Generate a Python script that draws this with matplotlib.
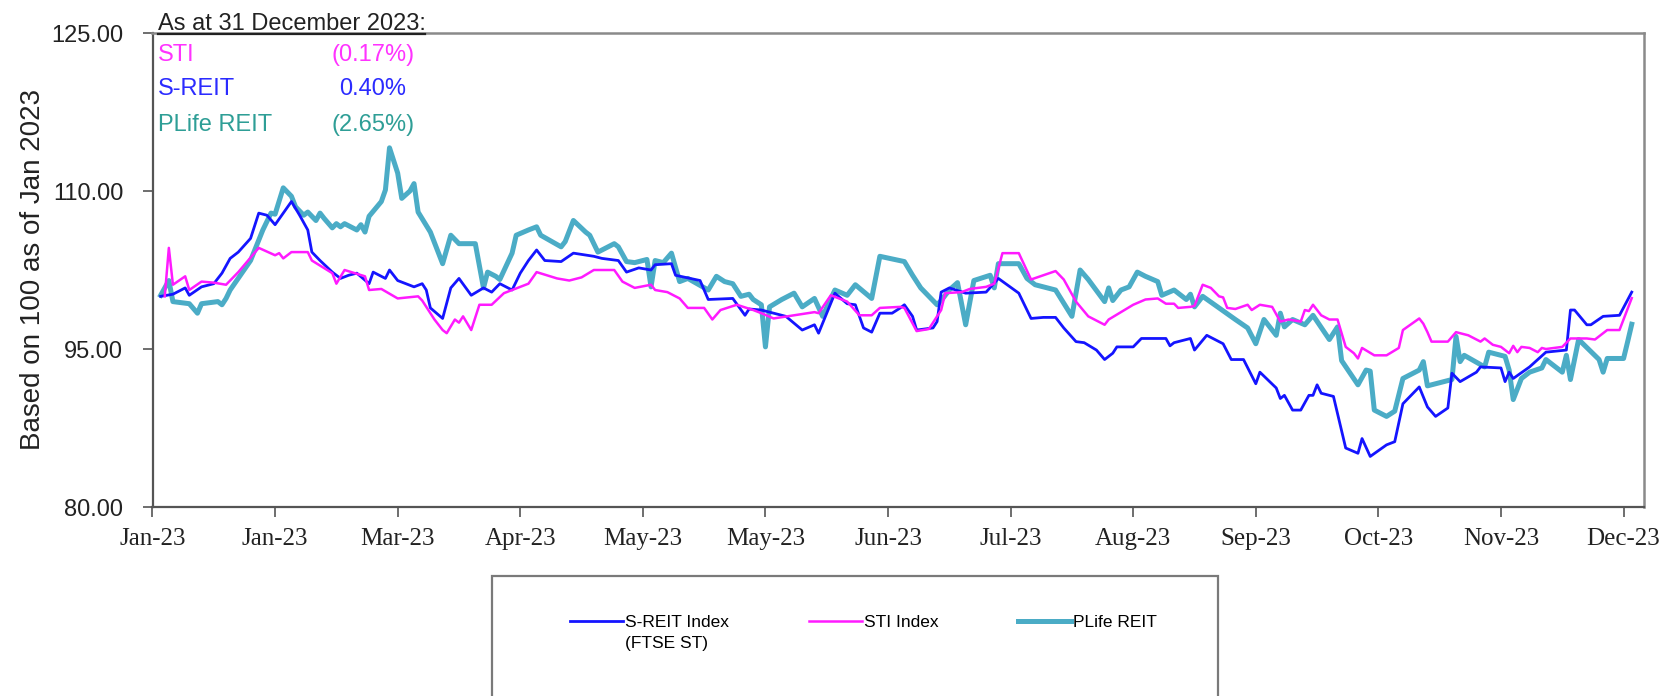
import numpy as np
import matplotlib
matplotlib.use("Agg")
import matplotlib.pyplot as plt
import matplotlib.dates as mdates
from matplotlib.patches import Rectangle

# ---------------- data (day offset from 1 Jan 2023, index value) ----------------
sreit_day = [2, 5, 8, 9, 12, 15, 17, 19, 21, 24, 26, 28, 30, 34, 36, 38, 39, 41, 44, 46, 48, 50,
             53, 54, 57, 58, 60, 64, 66, 67, 68, 71, 73, 75, 78, 81, 83, 85, 88, 90, 92, 94, 96,
             100, 103, 108, 110, 114, 116, 119, 122, 123, 127, 128, 134, 136, 142, 145, 146, 149,
             155, 159, 162, 163, 167, 170, 172, 174, 176, 178, 181, 183, 184, 186, 187, 191, 192,
             193, 195, 199, 204, 207, 212, 213, 215, 218, 221, 223, 226, 228, 231, 233, 235, 236,
             240, 242, 248, 249, 250, 254, 255, 258, 262, 264, 267, 270, 271, 275, 276, 277, 279,
             281, 283, 284, 285, 286, 289, 292, 295, 296, 298, 302, 304, 306, 310, 312, 314, 317,
             318, 320, 324, 325, 330, 331, 332, 333, 337, 339, 341, 346, 347, 348, 351, 352, 355,
             359, 362]
sreit_val = [100.0, 100.2, 100.8, 100.1, 100.9, 101.2, 102.2, 103.6, 104.2, 105.5, 107.9, 107.7,
             106.8, 109.0, 107.7, 106.3, 104.2, 103.4, 102.3, 101.7, 102.0, 102.2, 101.2, 102.3,
             101.7, 102.5, 101.5, 100.9, 101.2, 100.6, 98.9, 97.9, 100.8, 101.7, 100.1, 100.8,
             100.4, 101.2, 100.6, 102.2, 103.4, 104.4, 103.4, 103.3, 104.1, 103.8, 103.6, 103.4,
             102.3, 102.7, 102.5, 103.0, 103.1, 102.0, 101.5, 99.7, 99.8, 98.2, 98.8, 98.7, 98.1,
             96.8, 97.3, 96.5, 100.3, 99.3, 99.2, 97.0, 96.6, 98.4, 98.4, 98.9, 99.2, 98.1, 96.8,
             97.0, 97.6, 100.4, 100.8, 100.3, 100.4, 101.7, 100.3, 99.5, 97.9, 98.0, 98.0, 97.0,
             95.7, 95.6, 94.9, 94.0, 94.6, 95.2, 95.2, 96.0, 96.0, 95.3, 95.6, 96.0, 94.9, 96.3,
             95.5, 94.0, 94.0, 91.7, 92.8, 91.3, 90.3, 90.6, 89.2, 89.2, 90.6, 90.6, 91.6, 90.8,
             90.5, 85.6, 85.1, 86.5, 84.8, 85.9, 86.2, 89.8, 91.4, 89.5, 88.6, 89.4, 92.7, 91.9,
             92.8, 93.3, 93.2, 91.9, 92.8, 92.2, 93.3, 94.0, 94.7, 94.9, 98.7, 98.7, 97.3, 97.3,
             98.1, 98.2, 100.4]

sti_day = [3, 4, 5, 8, 9, 12, 15, 18, 21, 26, 30, 31, 32, 34, 38, 39, 44, 45, 47, 52, 53, 56, 60,
           65, 66, 69, 71, 72, 74, 75, 76, 78, 80, 83, 86, 88, 92, 94, 99, 102, 105, 108, 113, 115,
           118, 122, 123, 126, 129, 131, 135, 137, 139, 143, 147, 149, 152, 157, 162, 163, 166, 170,
           173, 176, 178, 183, 184, 187, 190, 193, 194, 198, 200, 204, 206, 208, 212, 215, 218, 221,
           223, 226, 229, 233, 234, 240, 243, 246, 248, 250, 251, 254, 255, 257, 259, 261, 262, 263,
           265, 268, 269, 271, 274, 276, 278, 281, 282, 283, 284, 286, 288, 290, 292, 294, 295, 296,
           299, 302, 305, 306, 310, 311, 312, 313, 317, 319, 322, 325, 326, 328, 330, 332, 333, 334,
           335, 337, 339, 340, 341, 345, 347, 351, 353, 356, 359, 362]
sti_val = [100.0, 104.6, 101.1, 101.9, 100.6, 101.4, 101.3, 101.1, 102.3, 104.6, 103.9, 104.1,
           103.6, 104.2, 104.2, 103.4, 102.2, 101.2, 102.5, 101.9, 100.6, 100.7, 99.8, 100.0, 99.6,
           97.8, 96.8, 96.5, 97.8, 97.5, 98.1, 96.8, 99.2, 99.2, 100.3, 100.6, 101.2, 102.3, 101.7,
           101.5, 101.8, 102.5, 102.5, 101.4, 100.8, 101.1, 100.6, 100.4, 99.8, 98.9, 98.9, 97.8,
           98.7, 99.2, 98.7, 98.4, 97.9, 98.2, 98.5, 98.4, 100.1, 99.5, 98.2, 98.2, 98.9, 99.0,
           98.9, 96.7, 96.9, 98.7, 100.3, 100.4, 100.7, 100.9, 101.2, 104.1, 104.1, 101.6, 102.0,
           102.4, 101.6, 99.5, 98.1, 97.3, 97.8, 99.2, 99.7, 99.8, 99.3, 99.3, 98.9, 99.0, 99.1,
           101.1, 100.8, 100.0, 99.9, 98.9, 98.8, 99.2, 98.7, 99.2, 99.0, 97.6, 97.8, 97.6, 98.7,
           98.6, 99.2, 98.2, 97.8, 97.8, 95.2, 94.6, 94.1, 95.1, 94.4, 94.4, 95.1, 96.8, 97.9, 97.4,
           96.6, 95.7, 95.7, 96.6, 96.3, 95.7, 96.0, 95.4, 95.2, 94.6, 95.3, 94.7, 95.2, 95.1, 94.7,
           95.1, 95.0, 95.2, 96.0, 96.0, 95.9, 96.8, 96.8, 99.83]

plife_day = [2, 4, 5, 9, 11, 12, 16, 17, 18, 19, 24, 27, 29, 30, 32, 34, 35, 37, 38, 40, 41, 42,
             44, 45, 46, 47, 50, 51, 52, 53, 56, 57, 58, 60, 61, 63, 64, 65, 68, 71, 73, 75, 79, 81,
             82, 84, 85, 88, 89, 92, 94, 95, 100, 101, 103, 106, 107, 109, 113, 114, 116, 118, 121,
             122, 123, 125, 127, 129, 131, 136, 138, 140, 142, 144, 146, 147, 149, 150, 151, 154,
             157, 159, 162, 164, 167, 170, 172, 176, 178, 184, 186, 188, 192, 193, 195, 197, 199,
             201, 205, 206, 207, 212, 214, 216, 221, 225, 227, 229, 233, 234, 235, 237, 239, 241,
             243, 246, 247, 250, 253, 254, 255, 257, 261, 265, 268, 270, 272, 275, 276, 277, 279,
             282, 284, 288, 290, 291, 295, 297, 298, 299, 302, 304, 306, 310, 311, 312, 318, 319,
             320, 321, 326, 327, 331, 332, 333, 335, 337, 340, 341, 345, 346, 347, 349, 354, 355,
             356, 360, 361, 362]
plife_val = [100.1, 101.5, 99.5, 99.3, 98.4, 99.3, 99.5, 99.2, 99.8, 100.6, 103.4, 106.3, 107.9,
             107.8, 110.3, 109.5, 108.5, 107.7, 108.0, 107.2, 107.9, 107.4, 106.5, 106.9, 106.6,
             106.9, 106.3, 106.8, 106.1, 107.6, 109.0, 110.1, 114.1, 111.7, 109.3, 110.0, 110.7,
             108.0, 106.1, 103.1, 105.8, 105.0, 105.0, 100.8, 102.3, 101.9, 101.6, 104.1, 105.8,
             106.3, 106.6, 105.8, 104.7, 105.2, 107.2, 106.1, 105.8, 104.2, 105.0, 104.7, 103.3,
             103.2, 103.5, 100.9, 103.4, 103.2, 104.1, 101.4, 101.7, 100.6, 101.9, 101.4, 101.2,
             100.0, 100.2, 99.7, 99.2, 95.2, 99.0, 99.7, 100.3, 99.0, 99.8, 98.1, 100.6, 100.1,
             101.1, 99.8, 103.8, 103.3, 102.0, 100.8, 99.2, 99.6, 100.6, 101.3, 97.3, 101.5, 102.0,
             100.8, 103.1, 103.1, 101.7, 101.1, 100.6, 98.1, 102.5, 101.6, 99.5, 100.8, 99.6, 100.6,
             100.9, 102.3, 101.9, 101.4, 100.1, 100.6, 99.7, 100.2, 99.0, 100.0, 98.9, 97.8, 97.0,
             95.5, 97.8, 96.3, 98.4, 97.1, 97.8, 97.3, 98.2, 95.9, 97.1, 93.9, 91.6, 93.0, 92.9,
             89.2, 88.6, 89.1, 92.2, 93.0, 93.8, 91.5, 92.1, 96.2, 93.8, 94.4, 93.3, 94.7, 94.3,
             93.0, 90.2, 92.2, 92.8, 93.2, 94.0, 92.8, 94.4, 92.1, 95.9, 94.0, 92.8, 94.1, 94.1,
             95.7, 97.35]

series_labels = ["S-REIT Index", "STI Index", "PLife REIT"]
label_second_line = "(FTSE ST)"
summary_names = ["STI", "S-REIT", "PLife REIT"]
summary_values = ["(0.17%)", "0.40%", "(2.65%)"]
y_ticks = [80.0, 95.0, 110.0, 125.0]
tick_step_days = 30

# ---------------- styling ----------------
C_SREIT = "#1414FF"
C_STI = "#FF1AFF"
C_PLIFE = "#4BACC6"
summary_colors = ["#FF33FF", "#2B2BFF", "#2E9E96"]
SANS = "Liberation Sans"

W, H = 1671, 696
fig = plt.figure(figsize=(W / 100, H / 100), dpi=100)
ax = fig.add_axes([152.5 / W, 1 - 507 / H, (1644 - 152.5) / W, (507 - 33) / H])

base = np.datetime64("2023-01-01")
to_dates = lambda d: base + np.array(d, dtype="timedelta64[D]")

ax.plot(to_dates(sreit_day), sreit_val, color=C_SREIT, lw=2.0, label=series_labels[0], zorder=3)
ax.plot(to_dates(sti_day), sti_val, color=C_STI, lw=1.8, label=series_labels[1], zorder=3)
ax.plot(to_dates(plife_day), plife_val, color=C_PLIFE, lw=3.6, label=series_labels[2], zorder=2)

ax.set_xlim(base, base + np.timedelta64(365, "D"))
ax.set_ylim(80, 125)
ax.set_yticks(y_ticks)
ax.set_yticklabels([f"{v:.2f}" for v in y_ticks], fontfamily=SANS, fontsize=17,
                   color="#222222")
xt = [base + np.timedelta64(tick_step_days * k, "D") for k in range(13)]
ax.set_xticks(xt)
ax.xaxis.set_major_formatter(mdates.DateFormatter("%b-%y"))
for lab in ax.get_xticklabels():
    lab.set_fontfamily("Liberation Serif")
    lab.set_fontsize(18)
    lab.set_color("#222222")
ax.tick_params(axis="y", direction="out", length=7, width=1.2, color="#555555", pad=14)
ax.tick_params(axis="x", direction="out", length=7, width=1.2, color="#555555", pad=8)
for s in ["left", "bottom"]:
    ax.spines[s].set_color("#555555")
    ax.spines[s].set_linewidth(1.6)
for s in ["top", "right"]:
    ax.spines[s].set_color("#8a8a8a")
    ax.spines[s].set_linewidth(1.8)

ax.set_ylabel("Based on 100 as of Jan 2023", fontfamily=SANS, fontsize=20, color="#222222")
ax.yaxis.set_label_coords((46 - 152.5) / (1644 - 152.5), 0.5)

# annotation block
fig.text(158 / W, 1 - 30 / H, "As at 31 December 2023:", fontfamily=SANS,
         fontsize=17, color="#222222", va="baseline", ha="left")
ax.plot([158 / W, 425 / W], [1 - 34 / H, 1 - 34 / H], transform=fig.transFigure,
        color="#222222", lw=1.6, clip_on=False, zorder=5)
row_y = [55, 89, 125]
for name, val, col, yy in zip(summary_names, summary_values, summary_colors, row_y):
    fig.text(158 / W, 1 - yy / H, name, fontfamily=SANS, fontsize=17, color=col,
             va="center", ha="left")
    fig.text(373 / W, 1 - yy / H, val, fontfamily=SANS, fontsize=17, color=col,
             va="center", ha="center")

# legend box
fig.patches.append(Rectangle((492 / W, -0.05), (1218 - 492) / W, 1.05 - 576 / H,
                             transform=fig.transFigure, fill=False, edgecolor="#7a7a7a",
                             lw=1.6))
handles, labels = ax.get_legend_handles_labels()
leg = fig.legend(handles, labels, loc="upper left", bbox_to_anchor=(570 / W, 1 - 615 / H),
                 ncol=3, frameon=False, prop={"family": SANS, "size": 12.5},
                 handlelength=3.05, handletextpad=0.12, columnspacing=4.6, borderpad=0,
                 borderaxespad=0)
fig.canvas.draw()
bb = leg.get_texts()[0].get_window_extent(fig.canvas.get_renderer())
fig.text(bb.x0 / W, (bb.y0 - 6) / H, label_second_line, fontfamily=SANS, fontsize=12.5,
         color="black", ha="left", va="top")

fig.savefig("out.png", dpi=100, facecolor="white")
